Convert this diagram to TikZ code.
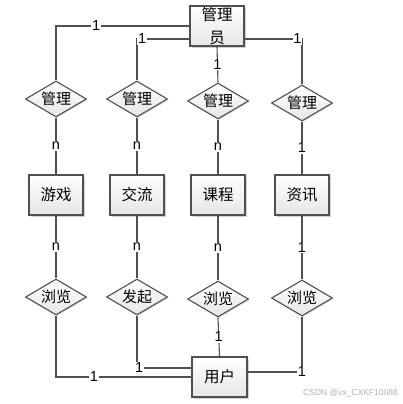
\documentclass[tikz,border=0pt]{standalone}
\usepackage{fontspec}
\setmainfont{Liberation Sans}
\newfontfamily\cjk{Noto Sans CJK SC}
\usetikzlibrary{shapes.geometric,shadows}
\definecolor{lineC}{HTML}{505050}
\tikzset{
  entity/.style={draw=lineC, line width=1.1pt, minimum width=54pt, minimum height=40pt,
    inner sep=1pt, top color=white, bottom color=black!10, font=\cjk\fontsize{15.5}{23}\selectfont,
    drop shadow={shadow xshift=1.6pt, shadow yshift=-1.6pt, fill=black!35, opacity=0.5}, align=center},
  rel/.style={diamond, draw=lineC, line width=1.1pt, minimum width=61pt, minimum height=36pt,
    inner sep=0pt, aspect=1.7, top color=white, bottom color=black!10,
    font=\cjk\fontsize{15}{16}\selectfont,
    drop shadow={shadow xshift=1.2pt, shadow yshift=-1.2pt, fill=black!30, opacity=0.4}},
  conn/.style={draw=lineC, line width=1.1pt},
  card/.style={fill=white, inner sep=0.8pt, font=\fontsize{14.5}{15}\selectfont, text=black}
}
\begin{document}
\begin{tikzpicture}[x=1pt,y=-1pt]
\useasboundingbox[fill=white] (0,0) rectangle (403,404);
% entities
\node[entity] (admin) at (217,26) {管理\\员};
\node[entity] (e1) at (56,195) {游戏};
\node[entity] (e2) at (137,195) {交流};
\node[entity] (e3) at (218,195) {课程};
\node[entity] (e4) at (302,195) {资讯};
\node[entity, minimum width=55pt] (user) at (219.5,377) {用户};
% relations
\node[rel] (r1) at (56,99) {管理};
\node[rel] (r2) at (137,99) {管理};
\node[rel] (r3) at (218,101) {管理};
\node[rel] (r4) at (302,103) {管理};
\node[rel] (b1) at (56,297) {浏览};
\node[rel] (b2) at (137,297) {发起};
\node[rel] (b3) at (218,299) {浏览};
\node[rel] (b4) at (302,298) {浏览};
% connectors top
\path[conn] (admin.west) -| node[card,pos=0.35]{1} (r1.north);
\path[conn] ([yshift=-13pt]admin.west) -| node[card,pos=0.45]{1} (r2.north);
\path[conn] (admin.south) -- node[card,pos=0.5]{1} (r3.north);
\path[conn] ([yshift=-13pt]admin.east) -| node[card,pos=0.46]{1} (r4.north);
% middle
\path[conn] (r1.south) -- node[card]{n} (e1.north);
\path[conn] (r2.south) -- node[card]{n} (e2.north);
\path[conn] (r3.south) -- node[card]{n} (e3.north);
\path[conn] (r4.south) -- node[card]{1} (e4.north);
\path[conn] (e1.south) -- node[card]{n} (b1.north);
\path[conn] (e2.south) -- node[card]{n} (b2.north);
\path[conn] (e3.south) -- node[card]{n} (b3.north);
\path[conn] (e4.south) -- node[card]{1} (b4.north);
% bottom
\path[conn] (b1.south) |- node[card,pos=0.64]{1} (user.west);
\path[conn] (b2.south) |- node[card,pos=0.52]{1} ([yshift=9pt]user.west);
\path[conn] (b3.south) -- node[card,pos=0.5]{1} (user.north);
\path[conn] ([yshift=5pt]user.east) -| node[card,pos=0.5]{1} (b4.south);
% watermark
\node[anchor=east, text=black!30, font=\fontsize{8.5}{9}\selectfont, inner sep=0] (wm) at (398,393) {CSDN @vx\_CXKF10088};
\end{tikzpicture}
\end{document}
